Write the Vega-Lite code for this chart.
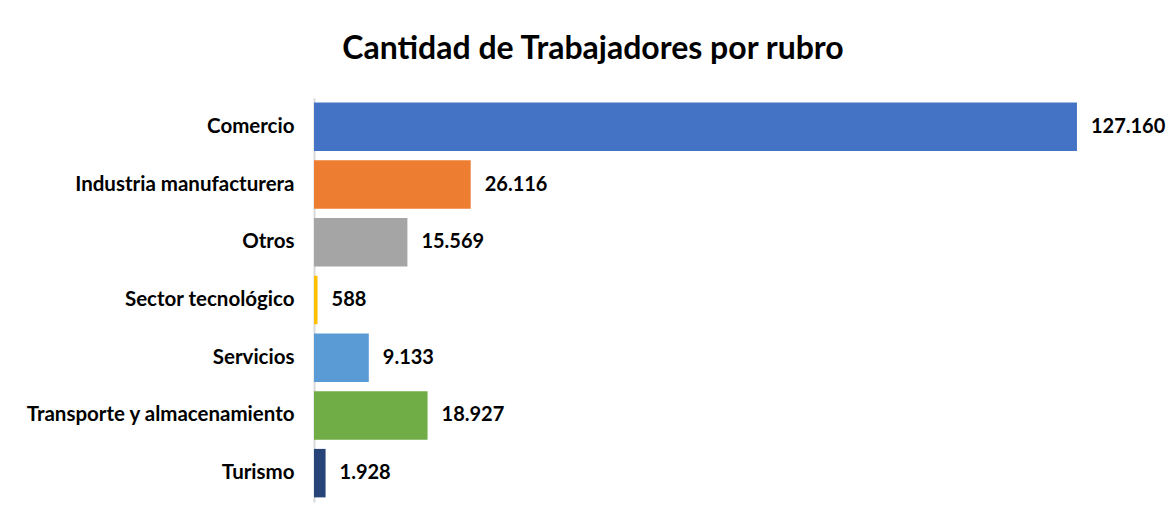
{
  "$schema": "https://vega.github.io/schema/vega-lite/v6.json",
  "width": 846,
  "height": 404,
  "autosize": {"type": "none"},
  "padding": {"left": 314, "top": 98, "right": 9, "bottom": 21},
  "background": "white",
  "title": {
    "text": "Cantidad de Trabajadores por rubro",
    "font": "Lato",
    "fontSize": 32,
    "fontWeight": "bold",
    "color": "#000000",
    "anchor": "middle",
    "dx": -144,
    "offset": 32
  },
  "data": {
    "values": [
      {"rubro": "Comercio", "trabajadores": 127160},
      {"rubro": "Industria manufacturera", "trabajadores": 26116},
      {"rubro": "Otros", "trabajadores": 15569},
      {"rubro": "Sector tecnológico", "trabajadores": 588},
      {"rubro": "Servicios", "trabajadores": 9133},
      {"rubro": "Transporte y almacenamiento", "trabajadores": 18927},
      {"rubro": "Turismo", "trabajadores": 1928}
    ]
  },
  "encoding": {
    "y": {
      "field": "rubro",
      "type": "nominal",
      "sort": null,
      "title": null,
      "scale": {"paddingInner": 0.16, "paddingOuter": 0.08},
      "axis": {
        "ticks": false,
        "labelPadding": 20,
        "labelLimit": 0,
        "labelFont": "Lato",
        "labelFontSize": 20.5,
        "labelFontWeight": "bold",
        "labelColor": "#000000",
        "domainColor": "#D9D9D9",
        "domainWidth": 2
      }
    },
    "x": {
      "field": "trabajadores",
      "type": "quantitative",
      "scale": {"domain": [0, 141000]},
      "axis": null
    }
  },
  "layer": [
    {
      "mark": {"type": "bar"},
      "encoding": {
        "color": {
          "field": "rubro",
          "type": "nominal",
          "legend": null,
          "scale": {
            "domain": ["Comercio", "Industria manufacturera", "Otros", "Sector tecnológico", "Servicios", "Transporte y almacenamiento", "Turismo"],
            "range": ["#4472C4", "#ED7D31", "#A5A5A5", "#FFC000", "#5B9BD5", "#70AD47", "#264478"]
          }
        }
      }
    },
    {
      "mark": {"type": "text", "align": "left", "baseline": "middle", "dx": 14, "font": "Lato", "fontSize": 20, "fontWeight": "bold", "color": "#000000"},
      "encoding": {
        "text": {"field": "trabajadores", "type": "quantitative", "format": ",d"}
      }
    }
  ],
  "config": {
    "view": {"stroke": null},
    "locale": {"number": {"decimal": ",", "thousands": ".", "grouping": [3], "currency": ["$", ""]}}
  }
}
